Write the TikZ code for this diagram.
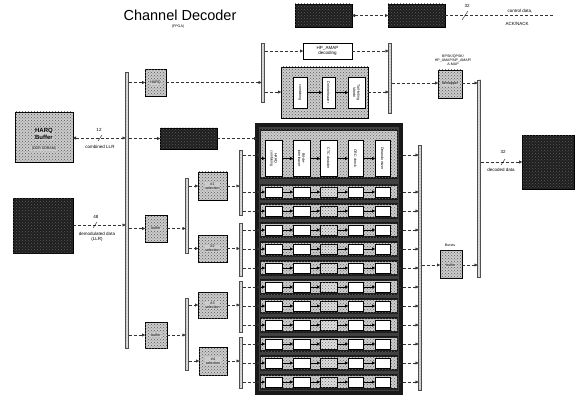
\documentclass[tikz,border=0pt]{standalone}
\usepackage{fontspec}
\setmainfont{Liberation Sans}
\usetikzlibrary{arrows.meta,patterns}
\begin{document}
\begin{tikzpicture}[x=1pt,y=-1pt,
  every node/.style={inner sep=0pt, outer sep=0pt},
  gbox/.style={draw=black, line width=0.6pt, fill=gray!40, postaction={pattern=crosshatch dots, pattern color=black!65}},
  dbox/.style={draw=black, line width=0.6pt, fill=black!88, postaction={pattern=crosshatch dots, pattern color=white!35!black}},
  wbox/.style={draw=black, line width=0.4pt, fill=white},
  hbox/.style={draw=black, line width=0.4pt, fill=gray!25, postaction={pattern=crosshatch dots, pattern color=black!55}},
  barn/.style={draw=black!70, line width=0.3pt, fill=gray!30, postaction={pattern=dots, pattern color=black!55}, minimum width=3pt},
  rowband/.style={draw=black!90, line width=1.2pt, fill=gray!40, postaction={pattern=crosshatch dots, pattern color=black!60}, minimum width=137pt, minimum height=14pt},
  conn/.style={densely dashed, line width=0.4pt, black!80, -{Triangle[length=3pt,width=3pt]}},
  biconn/.style={densely dashed, line width=0.4pt, black!80, {Triangle[length=3pt,width=3pt]}-{Triangle[length=3pt,width=3pt]}},
  arr/.style={line width=0.4pt, black, -{Triangle[length=3pt,width=3pt]}},
  plain/.style={densely dashed, line width=0.4pt, black!80},
  tiny/.style={font=\fontsize{3.6}{4.2}\selectfont, align=center},
  small/.style={font=\fontsize{4.5}{5.2}\selectfont, align=center},
  lab/.style={tiny, fill=gray!40, inner sep=0.5pt},
]
\useasboundingbox (0,0) rectangle (576,401);

% title
\node[font=\fontsize{14.5}{16}\selectfont] (title) at (180,15) {Channel Decoder};
\node[tiny] (fpga) at (178,27) {(FPGA)};

% top control boxes
\node[dbox, minimum width=57pt, minimum height=23pt] (tb1) at (323.5,15.5) {};
\node[dbox, minimum width=57pt, minimum height=23pt] (tb2) at (416.5,15.5) {};
\draw[biconn] (tb1.east) -- (tb2.west);
\coordinate (ctlend) at (553,15.5);
\draw[plain] (tb2.east) -- (ctlend);
\draw[line width=0.4pt] (462,20) -- (468,11);
\node[small] (n32a) at (467,6) {32};
\node[small] (ctl1) at (520,11) {control data,};
\node[small] (ctl2) at (517,24) {ACK/NACK};

% HARQ buffer & demodulator
\node[gbox, minimum width=58pt, minimum height=50pt] (harq) at (44,137) {};
\node[font=\bfseries\fontsize{6}{7}\selectfont, align=center, fill=gray!40, inner sep=0.5pt] (harqt) at (44,134) {HARQ\\Buffer};
\node[lab] (harqs) at (44,149) {(DDR SDRAM)};
\node[dbox, minimum width=60pt, minimum height=55pt] (demod) at (43,225.5) {};

% main bus
\node[barn, minimum height=276pt] (bus) at (127,210) {};

\draw[biconn] (harq.east |- 0,138) -- (bus.west |- 0,138);
\draw[line width=0.4pt] (98,141) -- (102,135);
\node[small] (n12) at (99,130) {12};
\node[small] (clr) at (100,147) {combined LLR};

\draw[conn] (demod.east |- 0,225) -- (bus.west |- 0,225);
\draw[line width=0.4pt] (93,228) -- (97,222);
\node[small] (n48) at (96,217) {48};
\node[small] (dml) at (97,237) {demodulated data\\(LLR)};

% top path
\node[gbox, minimum width=21pt, minimum height=27pt] (sb) at (155.5,82.5) {};
\node[lab] (sbt) at (155.5,83) {HARQ};
\draw[conn] (bus.east |- sb.west) -- (sb.west);
\node[barn, minimum height=59pt] (l1) at (263,72.5) {};
\draw[conn] (sb.east) -- (l1.west |- sb.east);
\node[wbox, minimum width=49pt, minimum height=16pt] (hp) at (327.5,51) {};
\node[small] (hpt) at (327.5,51) {HP\_AMAP\\decoding};
\node[gbox, minimum width=87pt, minimum height=51pt] (gb) at (324.5,92.5) {};
\node[wbox, minimum width=14pt, minimum height=31pt] (g1) at (300,92.5) {};
\node[wbox, minimum width=13pt, minimum height=31pt] (g2) at (328.5,92.5) {};
\node[wbox, minimum width=17pt, minimum height=31pt] (g3) at (356.5,92.5) {};
\node[tiny, rotate=-90] at (g1) {combining};
\node[tiny, rotate=-90] at (g2) {Deinterleaver};
\node[tiny, rotate=-90] at (g3) {Tail-biting\\Viterbi};
\draw[arr] (g1.east) -- (g2.west);
\draw[arr] (g2.east) -- (g3.west);
\node[barn, minimum height=70pt] (r1) at (390,78) {};
\draw[conn] (l1.east |- hp.west) -- (hp.west);
\draw[conn] (l1.east |- 0,92) -- (gb.west |- 0,92);
\draw[conn] (hp.east) -- (r1.west |- hp.east);
\draw[conn] (gb.east |- 0,92) -- (r1.west |- 0,92);

\node[gbox, minimum width=24pt, minimum height=28pt] (bpsk) at (450,84) {};
\node[lab] (bpskt) at (450,84) {demapper};
\node[tiny] (bpskl) at (453,60) {BPSK/QPSK/\\HP\_AMAP/NP\_AMAP/\\A-MAP};
\draw[conn] (r1.east |- 0,83) -- (bpsk.west |- 0,83);
\node[barn, minimum height=197pt] (r2) at (479,178.5) {};
\draw[conn] (bpsk.east |- 0,83) -- (r2.west |- 0,83);

% output
\node[dbox, minimum width=52pt, minimum height=54pt] (out) at (548,162) {};
\draw[conn] (r2.east |- out.west) -- (out.west);
\draw[line width=0.4pt] (501,165) -- (505,159);
\node[small] (n32b) at (503,152) {32};
\node[small] (dcd) at (501,170) {decoded data};

% HARQ combining dark box
\node[dbox, minimum width=57pt, minimum height=21pt] (hc) at (188.5,138.5) {};
\draw[conn] (bus.east |- hc.west) -- (hc.west);

% big block
\node[draw=black!90, line width=4pt, fill=black!75, minimum width=144pt, minimum height=268pt] (bb) at (329,259) {};
\node[rowband, minimum height=48pt] (hdr) at (329,154) {};
\foreach \x/\w/\t [count=\k] in {273.5/17/{HARQ\\combining}, 301.5/17/{Bit-de-\\interleaver}, 328.5/17/{CTC decoder}, 355.5/15/{CRC check}, 382.5/15/{Derandomizer}} {
  \node[wbox, minimum width=\w pt, minimum height=36pt] (h\k) at (\x,158.5) {};
  \node[tiny, rotate=-90] at (h\k) {\t};
}
\foreach \k [evaluate=\k as \j using int(\k+1)] in {1,...,4} { \draw[arr] (h\k.east) -- (h\j.west); }
\draw[arr] (hdr.west |- h1.west) -- (h1.west);
\draw[conn] (hc.east) -- (bb.west |- hc.east);

\foreach \i in {1,...,11} {
  \pgfmathsetmacro\ry{192+19*(\i-1)}
  \node[rowband] (row\i) at (329,\ry) {};
  \node[wbox, minimum width=17pt, minimum height=10pt] (a\i) at (273.5,\ry) {};
  \node[wbox, minimum width=17pt, minimum height=10pt] (b\i) at (301.5,\ry) {};
  \node[hbox, minimum width=17pt, minimum height=10pt] (c\i) at (328.5,\ry) {};
  \node[wbox, minimum width=15pt, minimum height=10pt] (d\i) at (355.5,\ry) {};
  \node[wbox, minimum width=15pt, minimum height=10pt] (e\i) at (382.5,\ry) {};
  \draw[arr] (row\i.west) -- (a\i.west);
  \draw[arr] (a\i.east) -- (b\i.west);
  \draw[arr] (b\i.east) -- (c\i.west);
  \draw[arr] (c\i.east) -- (d\i.west);
  \draw[arr] (d\i.east) -- (e\i.west);
}

% collector bar
\node[barn, minimum height=245pt] (col) at (420,267.5) {};
\draw[conn] (hdr.east |- 0,155) -- (col.west |- 0,155);
\foreach \i in {1,...,11} { \draw[conn] (row\i.east) -- (col.west |- row\i.east); }
\node[gbox, minimum width=22pt, minimum height=28pt] (bf) at (451,264) {};
\node[lab] (bft) at (451,265) {buffer};
\node[tiny] (bfl) at (450,245) {Bursts};
\draw[conn] (col.east |- 0,265) -- (bf.west |- 0,265);
\draw[conn] (bf.east |- 0,265) -- (r2.west |- 0,265);

% left distribution
\node[gbox, minimum width=22pt, minimum height=27pt] (bu1) at (156,228.5) {};
\node[gbox, minimum width=22pt, minimum height=26pt] (bu2) at (156,335) {};
\node[lab] at (bu1) {buffer};
\node[lab] at (bu2) {buffer};
\draw[conn] (bus.east |- bu1.west) -- (bu1.west);
\draw[conn] (bus.east |- bu2.west) -- (bu2.west);
\node[barn, minimum height=75pt] (m1) at (187,215.5) {};
\node[barn, minimum height=72pt] (m2) at (187,334) {};
\draw[conn] (bu1.east) -- (m1.west |- bu1.east);
\draw[conn] (bu2.east) -- (m2.west |- bu2.east);
\node[gbox, minimum width=29pt, minimum height=28pt] (s1) at (212.5,186) {};
\node[gbox, minimum width=29pt, minimum height=27pt] (s2) at (212.5,248.5) {};
\node[gbox, minimum width=29pt, minimum height=26pt] (s3) at (212.5,305) {};
\node[gbox, minimum width=28pt, minimum height=28pt] (s4) at (213,361) {};
\foreach \s/\n in {s1/\#1, s2/\#2, s3/\#3, s4/\#4} { \node[lab] at (\s) {\n\\selection}; }
\draw[conn] (m1.east |- s1.west) -- (s1.west);
\draw[conn] (m1.east |- s2.west) -- (s2.west);
\draw[conn] (m2.east |- s3.west) -- (s3.west);
\draw[conn] (m2.east |- s4.west) -- (s4.west);
\node[barn, minimum height=65pt] (ba) at (241,182.5) {};
\node[barn, minimum height=53pt] (bb2) at (241,249.5) {};
\node[barn, minimum height=51pt] (bc) at (241,306.5) {};
\node[barn, minimum height=51pt] (bd) at (241,362.5) {};
\draw[conn] (s1.east) -- (ba.west |- s1.east);
\draw[conn] (s2.east) -- (bb2.west |- s2.east);
\draw[conn] (s3.east) -- (bc.west |- s3.east);
\draw[conn] (s4.east) -- (bd.west |- s4.east);
\draw[conn] (ba.east |- 0,155) -- (hdr.west |- 0,155);
\foreach \i/\b in {1/ba,2/ba,3/bb2,4/bb2,5/bb2,6/bc,7/bc,8/bc,9/bd,10/bd,11/bd} {
  \draw[conn] (\b.east |- row\i.west) -- (row\i.west);
}
\end{tikzpicture}
\end{document}
